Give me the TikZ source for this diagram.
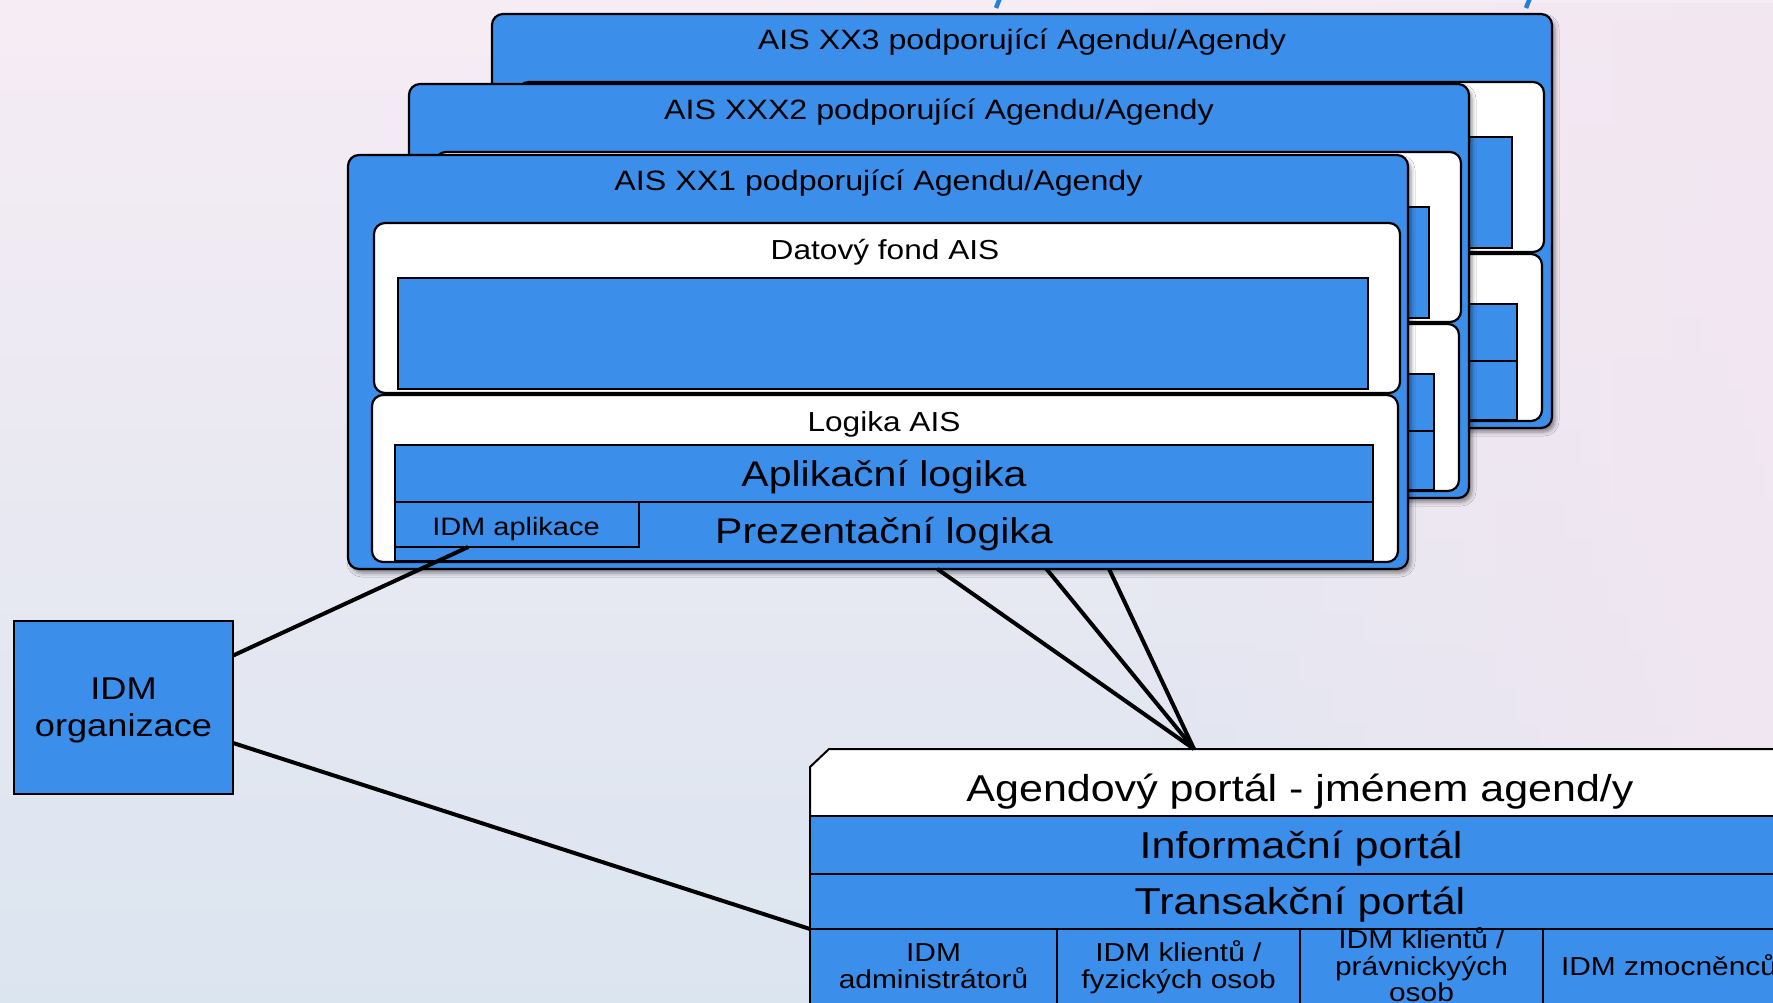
\documentclass[tikz,border=0pt]{standalone}
\usepackage{fontspec}
\setmainfont{Liberation Sans}[FakeStretch=1.15]
\usetikzlibrary{calc,shadows.blur,fadings}
\definecolor{aisblue}{RGB}{59,142,234}
\definecolor{bgtop}{RGB}{246,236,244}
\definecolor{bgmid}{RGB}{233,239,248}
\definecolor{bgbot}{RGB}{219,229,240}
\definecolor{bgpink}{RGB}{242,230,241}
\definecolor{titleblue}{RGB}{36,128,214}
\newcommand\fTitle{\fontsize{28}{32}\selectfont}
\newcommand\fSub{\fontsize{27.5}{32}\selectfont}
\newcommand\fBig{\fontsize{35.7}{40}\selectfont}
\newcommand\fApp{\fontsize{25.2}{30}\selectfont}
\newcommand\fOrg{\fontsize{31.5}{36.7}\selectfont}
\newcommand\fPort{\fontsize{37.4}{42}\selectfont}
\newcommand\fCell{\fontsize{26}{26.7}\selectfont}
\tikzset{
  boxbase/.style={inner sep=0pt, outer sep=0pt},
  cardbox/.style={boxbase, draw=black, fill=aisblue, line width=2.2pt, rounded corners=11pt,
    blur shadow={shadow xshift=3pt, shadow yshift=-4pt, shadow blur radius=4pt, shadow opacity=45}},
  whitebox/.style={boxbase, draw=black, fill=white, line width=2.2pt, rounded corners=11pt},
  bluerect/.style={boxbase, draw=black, fill=aisblue, line width=2pt},
  txt/.style={anchor=base, inner sep=0pt, outer sep=0pt, align=center, text=black},
  connline/.style={draw=black, line width=4pt},
}
\newcommand\aisCardShapes[3]{%
  \begin{scope}[shift={(#1,#2)}]
    \node[cardbox, minimum width=1060pt, minimum height=414pt] (card#3) at (878,362) {};
    \node[whitebox, minimum width=1026pt, minimum height=170pt] (data#3) at (887,308) {};
    \node[bluerect, minimum width=970pt, minimum height=111pt] (datain#3) at (883,333.5) {};
    \node[whitebox, minimum width=1026pt, minimum height=167pt] (logika#3) at (885,478.5) {};
    \node[bluerect, minimum width=978pt, minimum height=57pt] (app#3) at (884,473.5) {};
    \node[bluerect, minimum width=978pt, minimum height=59pt] (prez#3) at (884,531.5) {};
  \end{scope}}
\begin{document}
\begin{tikzpicture}[x=1pt,y=-1pt]
\useasboundingbox (0,0) rectangle (1773,1002);
\begin{scope}
\clip (0,0) rectangle (1773,1002);
% background
\shade[top color=bgtop, middle color=bgmid, bottom color=bgbot] (0,0) rectangle (1773,1002);
\fill[bgpink, path fading=west, fill opacity=0.9] (1150,0) rectangle (1773,1002);
% fragments of the cut-off title
\draw[titleblue, line width=4.5pt] (1000,-2) -- (996,8);
\draw[titleblue, line width=4.5pt] (1530,-2) -- (1526,8);

% back cards
\aisCardShapes{144}{-141}{3}
\node[txt, font=\fTitle] (title3) at (1022,49.7) {AIS XX3 podporující Agendu/Agendy};
\aisCardShapes{61}{-71}{2}
\node[txt, font=\fTitle] (title2) at (939,119.7) {AIS XXX2 podporující Agendu/Agendy};
% front card
\aisCardShapes{0}{0}{1}
\node[txt, font=\fTitle] (title1) at (878.5,190.7) {AIS XX1 podporující Agendu/Agendy};
\node[txt, font=\fSub] (tdata) at (885,259.3) {Datový fond AIS};
\node[txt, font=\fSub] (tlogika) at (884,431.7) {Logika AIS};
\node[txt, font=\fBig] (tapp) at (884,486) {Aplikační logika};
\node[txt, font=\fBig] (tprez) at (884,543.3) {Prezentační logika};
\node[bluerect, minimum width=244pt, minimum height=45pt] (idmapp) at (517,524.5) {};
\node[txt, font=\fApp] (tidmapp) at (516,535) {IDM aplikace};

% IDM organizace
\node[bluerect, minimum width=219pt, minimum height=173pt] (idmorg) at (123.5,707.5) {};
\node[txt, font=\fOrg] (tidmorg) at (123.5,736) {IDM\\organizace};

% portal
\draw[fill=white, draw=black, line width=2pt] (810,816) -- (810,767) -- (829,749) -- (1790,749) -- (1790,816) -- cycle;
\coordinate (ptop) at (1194,749);
\node[txt, font=\fPort] (tportal) at (1300,801.7) {Agendový portál - jménem agend/y};
\node[bluerect, minimum width=980pt, minimum height=58pt] (info) at (1300,845) {};
\node[txt, font=\fPort] (tinfo) at (1301,858.3) {Informační portál};
\node[bluerect, minimum width=980pt, minimum height=55pt] (trans) at (1300,901.5) {};
\node[txt, font=\fPort] (ttrans) at (1300,914) {Transakční portál};
\node[bluerect, minimum width=247pt, minimum height=75pt] (cadm) at (933.5,966.5) {};
\node[bluerect, minimum width=243pt, minimum height=75pt] (cfyz) at (1178.5,966.5) {};
\node[bluerect, minimum width=243pt, minimum height=75pt] (cprav) at (1421.5,966.5) {};
\node[bluerect, minimum width=247pt, minimum height=75pt] (czmoc) at (1666.5,966.5) {};
\node[txt, font=\fCell] (tadm) at (933.5,988.3) {IDM\\administrátorů};
\node[txt, font=\fCell] (tfyz) at (1178.5,988.3) {IDM klientů /\\fyzických osob};
\node[txt, font=\fCell] (tprav) at (1421.5,1001.7) {IDM klientů /\\právnickyých\\osob};
\node[txt, font=\fCell] (tzmoc) at (1669,975) {IDM zmocněnců};

% connectors
\draw[connline] ($(idmapp.south west)!0.3!(idmapp.south east)$) -- ($(idmorg.north east)!0.2!(idmorg.south east)$);
\draw[connline] ($(idmorg.north east)!0.705!(idmorg.south east)$) -- (cadm.north west);
\draw[connline] ($(card1.south west)!0.556!(card1.south east)$) -- (ptop);
\draw[connline] ($(card1.south west)!0.659!(card1.south east)$) -- (ptop);
\draw[connline] ($(card1.south west)!0.718!(card1.south east)$) -- (ptop);
\end{scope}
\end{tikzpicture}
\end{document}
